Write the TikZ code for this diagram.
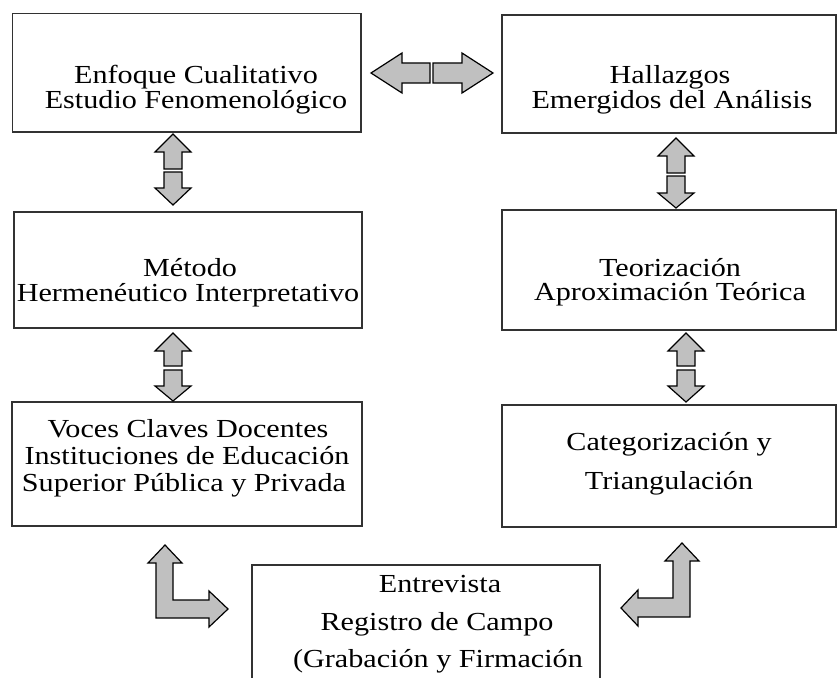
\documentclass[tikz,border=0pt]{standalone}
\usepackage{fontspec}
\setmainfont[FakeStretch=1.16]{Liberation Serif}
\definecolor{arrfill}{RGB}{192,192,192}
\definecolor{boxline}{RGB}{50,50,50}
\begin{document}
\begin{tikzpicture}[x=1pt,y=-1pt,
  box/.style={draw=boxline, line width=1.8pt, inner sep=0pt},
  txt/.style={font=\fontsize{26}{28}\selectfont, anchor=base, inner sep=0pt},
  blk/.style={fill=arrfill, draw=black, line width=1.2pt, line join=miter}]
\useasboundingbox (0,0) rectangle (840,677);
\clip (0,0) rectangle (840,677);
% boxes
\node[box, minimum width=348.5pt, minimum height=118.5pt] (A) at (186.75,72.75) {};
\node[box, minimum width=334pt, minimum height=118pt] (B) at (669,74) {};
\node[box, minimum width=348pt, minimum height=116pt] (C) at (188,270) {};
\node[box, minimum width=334pt, minimum height=120pt] (D) at (669,270) {};
\node[box, minimum width=350pt, minimum height=124pt] (E) at (187,464) {};
\node[box, minimum width=334pt, minimum height=122pt] (F) at (669,466) {};
\node[box, minimum width=348pt, minimum height=137pt] (G) at (426,633.5) {};
% texts
\node[txt] (a1) at (196,84) {Enfoque Cualitativo};
\node[txt] (a2) at (196,108) {Estudio Fenomenológico};
\node[txt] (b1) at (670,84) {Hallazgos};
\node[txt] (b2) at (672,108) {Emergidos del Análisis};
\node[txt] (c1) at (190,276) {Método};
\node[txt] (c2) at (188,301) {Hermenéutico Interpretativo};
\node[txt] (d1) at (670,276) {Teorización};
\node[txt] (d2) at (670,300) {Aproximación Teórica};
\node[txt] (e1) at (188,437) {Voces Claves Docentes};
\node[txt] (e2) at (187,464) {Instituciones de Educación};
\node[txt] (e3) at (184,491) {Superior Pública y Privada};
\node[txt] (f1) at (669,450) {Categorización y};
\node[txt] (f2) at (669,489) {Triangulación};
\node[txt] (g1) at (440,592) {Entrevista};
\node[txt] (g2) at (437,630) {Registro de Campo};
\node[txt] (g3) at (438,667) {(Grabación y Firmación};
% horizontal double arrow A-B
\draw[blk] (371,73) -- (402,53) -- (402,63) -- (430,63) -- (430,83) -- (402,83) -- (402,93) -- cycle;
\draw[blk] (433,63) -- (462,63) -- (462,53) -- (493,73) -- (462,93) -- (462,83) -- (433,83) -- cycle;
% vertical A-C
\draw[blk] (173,134) -- (191,152) -- (182,152) -- (182,169) -- (164,169) -- (164,152) -- (155,152) -- cycle;
\draw[blk] (164,172) -- (182,172) -- (182,188) -- (191,188) -- (173,205) -- (155,188) -- (164,188) -- cycle;
% vertical C-E
\draw[blk] (173,333) -- (191,351) -- (182,351) -- (182,366) -- (164,366) -- (164,351) -- (155,351) -- cycle;
\draw[blk] (164,370) -- (182,370) -- (182,386) -- (191,386) -- (173,401) -- (155,386) -- (164,386) -- cycle;
% vertical B-D
\draw[blk] (676,138) -- (694,156) -- (685,156) -- (685,173) -- (667,173) -- (667,156) -- (658,156) -- cycle;
\draw[blk] (667,176) -- (685,176) -- (685,193) -- (694,193) -- (676,208) -- (658,193) -- (667,193) -- cycle;
% vertical D-F
\draw[blk] (686,333) -- (704,351) -- (695,351) -- (695,366) -- (677,366) -- (677,351) -- (668,351) -- cycle;
\draw[blk] (677,370) -- (695,370) -- (695,386) -- (704,386) -- (686,402) -- (668,386) -- (677,386) -- cycle;
% L arrows
\draw[blk] (165,545) -- (182,563) -- (173,563) -- (173,600) -- (209,600) -- (209,591) -- (228,609) -- (209,627) -- (209,618) -- (156,618) -- (156,563) -- (148,563) -- cycle;
\draw[blk] (682,543) -- (699,561) -- (690,561) -- (690,617) -- (638,617) -- (638,626) -- (621,608) -- (638,590) -- (638,598) -- (673,598) -- (673,561) -- (665,561) -- cycle;
\end{tikzpicture}
\end{document}
